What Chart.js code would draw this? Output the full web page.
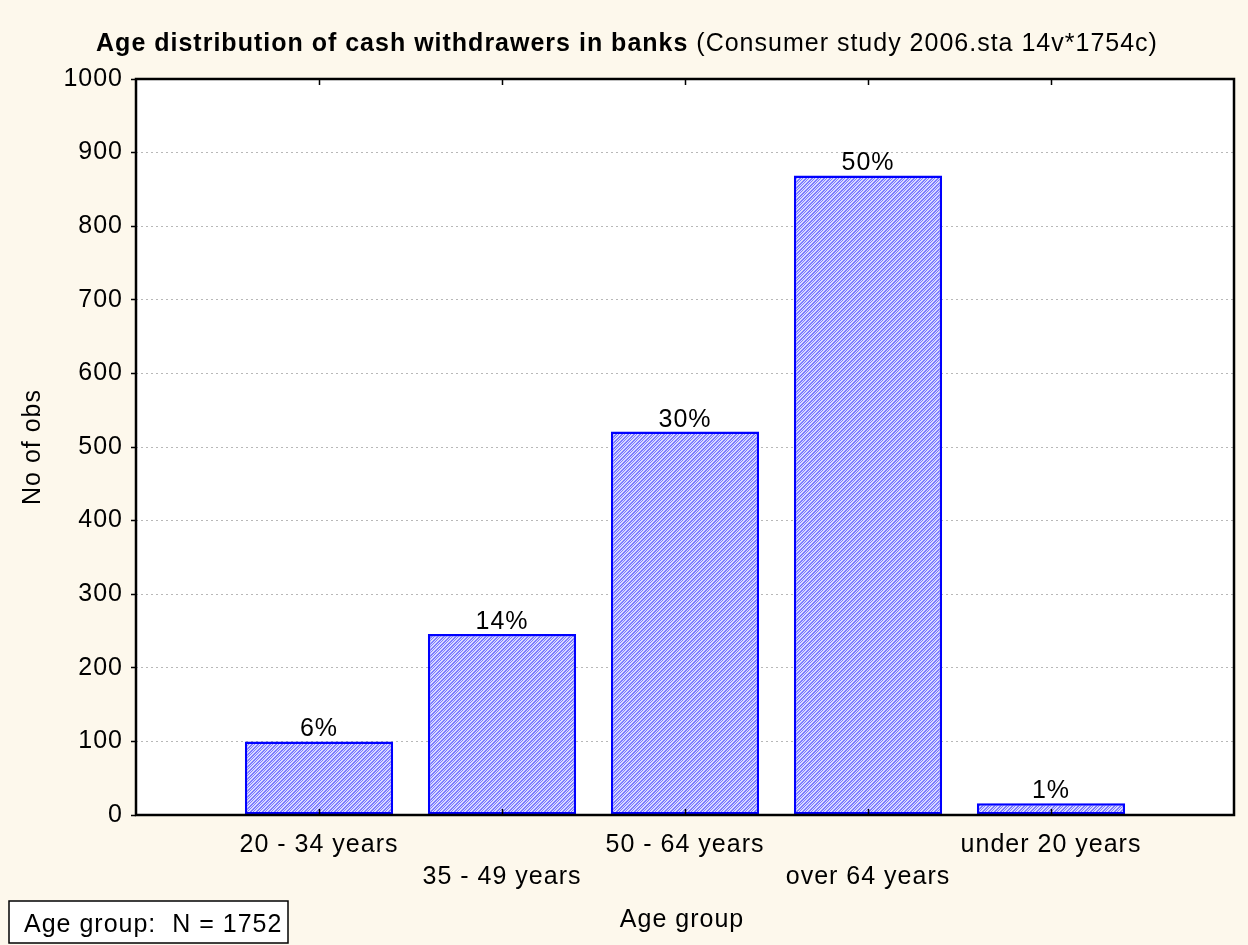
<!DOCTYPE html>
<html>
<head>
<meta charset="utf-8">
<script src="https://cdn.jsdelivr.net/npm/chart.js@4.4.1/dist/chart.umd.min.js"></script>
<style>
  html, body { margin: 0; padding: 0; background: #fdf8ec; }
  #wrap { width: 1248px; height: 945px; }
</style>
</head>
<body>
<div id="wrap"><canvas id="chart" width="1248" height="945"></canvas></div>
<script>
const ageGroups = ['20 - 34 years', '35 - 49 years', '50 - 64 years', 'over 64 years', 'under 20 years'];
const obsCounts = [100, 246, 521, 869, 16];
const totalN = 1752;
const titleBold = 'Age distribution of cash withdrawers in banks';
const titleRest = ' (Consumer study 2006.sta 14v*1754c)';

Chart.defaults.font.family = "'Liberation Sans', Arial, sans-serif";
Chart.defaults.color = '#000';

// hatched fill like the original
function makeHatch() {
    const c = document.createElement('canvas');
    c.width = 6; c.height = 6;
    const g = c.getContext('2d');
    g.fillStyle = '#dadaff';
    g.fillRect(0, 0, 6, 6);
    g.fillStyle = '#7c7cff';
    for (let i = 0; i < 6; i++) {
        g.fillRect(i, 5 - i, 1, 1);
        g.fillRect((i + 1) % 6, 5 - i, 1, 1);
        g.fillRect((i + 3) % 6, 5 - i, 1, 1);
    }
    return g.createPattern(c, 'repeat');
}

const decor = {
    id: 'decor',
    beforeDraw(chart) {
        const { ctx, chartArea: a } = chart;
        // the original's type is set a little wider
        ctx.letterSpacing = '1px';
        ctx.save();
        ctx.fillStyle = '#fdf8ec';
        ctx.fillRect(0, 0, chart.width, chart.height);
        ctx.fillStyle = '#fff';
        ctx.fillRect(a.left, a.top, a.right - a.left, a.bottom - a.top);
        ctx.restore();
    },
    afterDraw(chart) {
        const { ctx, chartArea: a } = chart;
        const xs = chart.scales.x;
        ctx.save();

        // plot frame
        ctx.strokeStyle = '#000';
        ctx.lineWidth = 2.5;
        ctx.strokeRect(a.left, a.top, a.right - a.left, a.bottom - a.top);

        // inner ticks on the category axis
        ctx.lineWidth = 1.5;
        ageGroups.forEach((g, i) => {
            const px = Math.round(xs.getPixelForValue(i + 1)) + 0.5;
            ctx.beginPath();
            ctx.moveTo(px, a.bottom); ctx.lineTo(px, a.bottom - 6);
            ctx.moveTo(px, a.top); ctx.lineTo(px, a.top + 6);
            ctx.stroke();
        });

        // percent labels above bars
        ctx.fillStyle = '#000';
        ctx.font = "25px 'Liberation Sans', Arial, sans-serif";
        ctx.textAlign = 'center';
        ctx.textBaseline = 'alphabetic';
        chart.getDatasetMeta(0).data.forEach((bar, i) => {
            const pct = Math.round(obsCounts[i] / totalN * 100) + '%';
            ctx.fillText(pct, bar.x, bar.y - 5);
        });

        // title: bold part + normal part
        ctx.textAlign = 'left';
        const fb = "bold 25px 'Liberation Sans', Arial, sans-serif";
        const fn = "25px 'Liberation Sans', Arial, sans-serif";
        ctx.font = fb; const wb = ctx.measureText(titleBold).width;
        ctx.font = fn; const wn = ctx.measureText(titleRest).width;
        let tx = 627 - (wb + wn) / 2;
        ctx.font = fb; ctx.fillText(titleBold, tx, 51);
        ctx.font = fn; ctx.fillText(titleRest, tx + wb, 51);

        // axis titles
        ctx.font = "25px 'Liberation Sans', Arial, sans-serif";
        ctx.textAlign = 'center';
        ctx.fillText('Age group', 682, 927);
        ctx.save();
        ctx.translate(40, 447);
        ctx.rotate(-Math.PI / 2);
        ctx.fillText('No of obs', 0, 0);
        ctx.restore();

        // legend box
        ctx.fillStyle = '#fff';
        ctx.fillRect(9, 901, 279, 42);
        ctx.strokeStyle = '#000';
        ctx.lineWidth = 1.5;
        ctx.strokeRect(9, 901, 279, 42);
        ctx.fillStyle = '#000';
        ctx.textAlign = 'left';
        ctx.fillText('Age group:  N = ' + totalN, 24, 932);
        ctx.restore();
    }
};

new Chart(document.getElementById('chart'), {
    type: 'bar',
    data: {
        datasets: [{
            data: obsCounts.map((v, i) => ({ x: i + 1, y: v })),
            backgroundColor: makeHatch(),
            borderColor: '#0000ff',
            borderWidth: 2.5,
            borderSkipped: false,
            categoryPercentage: 0.81,
            barPercentage: 1.0
        }]
    },
    options: {
        responsive: false,
        animation: false,
        devicePixelRatio: 1,
        layout: { padding: { top: 79, right: 10, left: 0, bottom: 0 } },
        plugins: { legend: { display: false }, tooltip: { enabled: false }, title: { display: false } },
        scales: {
            x: {
                type: 'linear',
                min: 0, max: 6,
                offset: false,
                grid: { display: false, offset: false, drawTicks: false },
                border: { display: false },
                ticks: {
                    stepSize: 1,
                    autoSkip: false,
                    maxRotation: 0,
                    padding: 14,
                    font: { size: 25, lineHeight: 1.28 },
                    color: '#000',
                    callback: (v) => {
                        const i = v - 1;
                        if (i < 0 || i >= ageGroups.length) return '';
                        return i % 2 === 0 ? ageGroups[i] : ['', ageGroups[i]];
                    }
                },
                afterFit: (s) => { s.height = 130; }
            },
            y: {
                min: 0, max: 1000,
                grid: { color: '#b8b8b8', lineWidth: 1, tickColor: '#000', tickLength: 5, tickWidth: 1.5 },
                border: { display: false, dash: [2, 3] },
                ticks: { stepSize: 100, padding: 8, font: { size: 25 }, color: '#000', callback: (v) => String(v) },
                afterFit: (s) => { s.width = 136; }
            }
        }
    },
    plugins: [decor]
});
</script>
</body>
</html>
